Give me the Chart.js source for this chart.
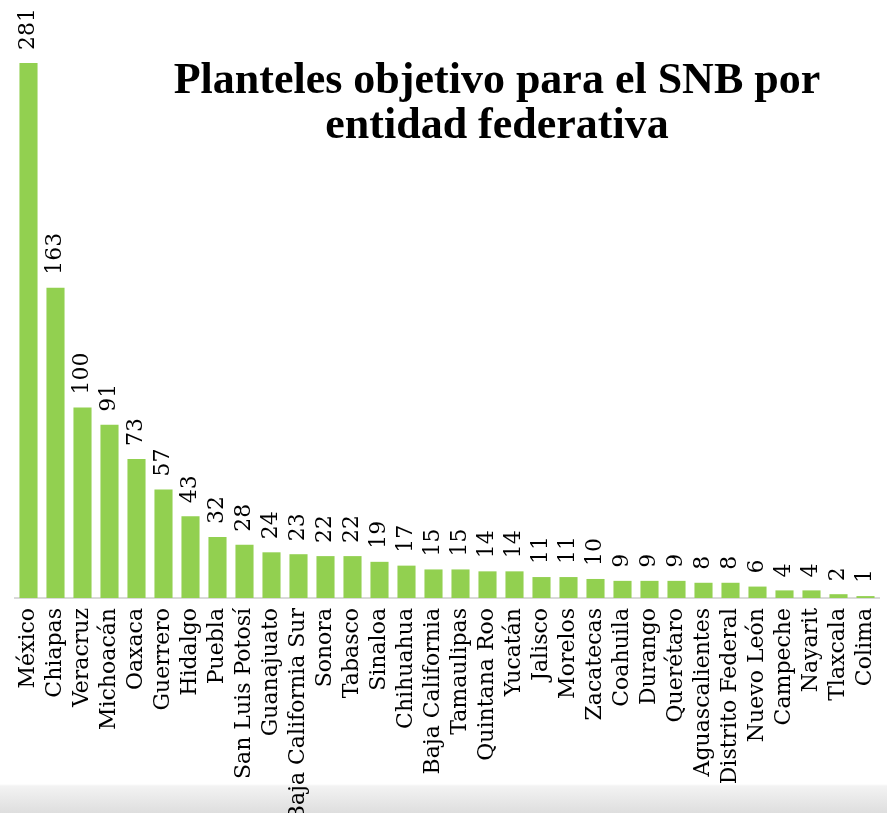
<!DOCTYPE html>
<html>
<head>
<meta charset="utf-8">
<script src="https://cdn.jsdelivr.net/npm/chart.js@4.4.0/dist/chart.umd.min.js"></script>
<style>
  html, body { margin: 0; padding: 0; }
  body {
    width: 887px; height: 813px; overflow: hidden; position: relative;
    background: linear-gradient(to bottom, #ffffff 0px, #ffffff 784px, #f3f3f3 786px, #dedede 813px);
  }
  #wrap { position: absolute; left: 0; top: 0; width: 887px; height: 813px; }
  #titulo {
    position: absolute; left: 140px; width: 714px; top: 56px;
    text-align: center; font-family: "Liberation Serif", serif; font-weight: bold;
    font-size: 44px; line-height: 45px; color: #000;
  }
</style>
</head>
<body>
<div id="wrap"><canvas id="myChart"></canvas></div>
<div id="titulo">Planteles objetivo para el SNB por<br>entidad federativa</div>
<script>
// datos
const estados = ["México", "Chiapas", "Veracruz", "Michoacán", "Oaxaca", "Guerrero", "Hidalgo", "Puebla",
  "San Luis Potosí", "Guanajuato", "Baja California Sur", "Sonora", "Tabasco", "Sinaloa", "Chihuahua",
  "Baja California", "Tamaulipas", "Quintana Roo", "Yucatán", "Jalisco", "Morelos", "Zacatecas", "Coahuila",
  "Durango", "Querétaro", "Aguascalientes", "Distrito Federal", "Nuevo León", "Campeche", "Nayarit", "Tlaxcala", "Colima"];
const planteles = [281, 163, 100, 91, 73, 57, 43, 32, 28, 24, 23, 22, 22, 19, 17, 15, 15, 14, 14, 11, 11, 10, 9, 9, 9, 8, 8, 6, 4, 4, 2, 1];

const fuente = "'DejaVu Serif', serif";

// etiquetas de valor rotadas encima de cada barra
const etiquetasValor = {
  id: 'etiquetasValor',
  afterDatasetsDraw(chart) {
    const c = chart.ctx;
    const meta = chart.getDatasetMeta(0);
    c.save();
    c.font = "22px " + fuente;
    c.fillStyle = "#000";
    c.textAlign = "left";
    c.textBaseline = "middle";
    meta.data.forEach((bar, i) => {
      c.save();
      c.translate(bar.x, bar.y - 13);
      c.rotate(-Math.PI / 2);
      c.fillText(planteles[i], 0, 0);
      c.restore();
    });
    c.restore();
  }
};

const ctx = document.getElementById('myChart');
new Chart(ctx, {
  type: 'bar',
  data: {
    labels: estados,
    datasets: [{
      data: planteles,
      backgroundColor: '#92D050',
      barPercentage: 0.67,
      categoryPercentage: 1
    }]
  },
  options: {
    responsive: true,
    maintainAspectRatio: false,
    animation: false,
    layout: { padding: { top: 63, left: 15, right: 8, bottom: 0 } },
    plugins: {
      legend: { display: false },
      tooltip: { enabled: false },
      title: { display: false }
    },
    scales: {
      x: {
        grid: { display: false, drawTicks: false },
        border: { display: true, color: '#d9d9d9', width: 2 },
        ticks: {
          autoSkip: false, maxRotation: 90, minRotation: 90, padding: 10,
          color: '#000', font: { family: fuente, size: 22 }
        },
        afterFit(scale) {
          scale.height = 215;
          scale.paddingLeft = 0;
          scale.paddingRight = 0;
        }
      },
      y: {
        display: false,
        min: 0, max: 281
      }
    }
  },
  plugins: [etiquetasValor]
});
</script>
</body>
</html>
